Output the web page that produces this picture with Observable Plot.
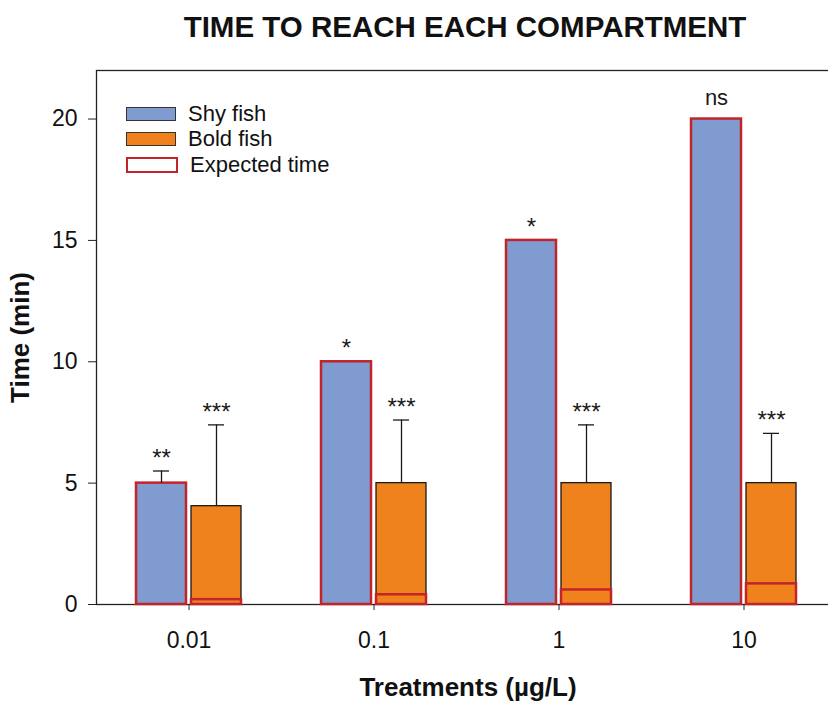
<!DOCTYPE html>
<html>
<head>
<meta charset="utf-8">
<script src="https://cdn.jsdelivr.net/npm/d3@7"></script>
<script src="https://cdn.jsdelivr.net/npm/@observablehq/plot@0.6"></script>
<style>
  html, body { margin: 0; padding: 0; overflow: hidden; background: #fff; }
  body { width: 828px; height: 701px; position: relative; font-family: "Liberation Sans", Arial, sans-serif; color: #111; }
  #title { height: 52px; line-height: 54px; padding-left: 102px; width: 726px; text-align: center; font-weight: bold; font-size: 29.5px; white-space: nowrap; }
  #xtitle { position: absolute; left: 102px; width: 732px; top: 672px; text-align: center; font-weight: bold; font-size: 26px; white-space: nowrap; }
  #legend { position: absolute; left: 126px; top: 101px; font-size: 22px; }
  .row { display: flex; align-items: center; height: 25.5px; }
  .sw { width: 48px; height: 12px; margin-right: 12px; box-sizing: content-box; }
  #chart svg { max-width: none !important; overflow: visible; }
</style>
</head>
<body>
<div id="title">TIME TO REACH EACH COMPARTMENT</div>
<div id="chart"></div>
<div id="xtitle">Treatments (µg/L)</div>
<div id="legend"></div>
<script>
const treatments = ["0.01", "0.1", "1", "10"];
const shyMean = [5, 10, 15, 20];
const shySD = [0.5, 0, 0, 0];
const boldMean = [4.05, 5, 5, 5];
const boldSD = [3.35, 2.6, 2.4, 2.05];
const shyExpected = [5, 10, 15, 20];
const boldExpected = [0.2, 0.4, 0.6, 0.85];
const shySig = ["**", "*", "*", "ns"];
const boldSig = ["***", "***", "***", "***"];
const yTicks = [0, 5, 10, 15, 20];
const seriesNames = ["Shy fish", "Bold fish", "Expected time"];

const BLUE = "#7f9bcf", ORANGE = "#f0821e", RED = "#c3242a", INK = "#1a1a1a";

const shy = treatments.map((t, i) => ({t, mean: shyMean[i], sd: shySD[i], exp: shyExpected[i], sig: shySig[i]}));
const bold = treatments.map((t, i) => ({t, mean: boldMean[i], sd: boldSD[i], exp: boldExpected[i], sig: boldSig[i]}));
const errTop = d => d.mean + d.sd;
const shyErr = shy.filter(d => d.sd > 0);
const isNs = d => d.sig === "ns";

const font = "'Liberation Sans', Arial, sans-serif";

const chart = Plot.plot({
  width: 835,
  height: 618,
  marginLeft: 96,
  marginRight: 0,
  marginTop: 18,
  marginBottom: 66,
  style: {fontFamily: font, background: "white", overflow: "visible"},
  x: {domain: treatments, paddingInner: 80 / 185, paddingOuter: 39.5 / 185, label: null},
  y: {domain: [0, 22], label: null},
  marks: [
    Plot.frame({stroke: "#222", strokeWidth: 1.3}),
    // shy fish bars
    Plot.barY(shy, {x: "t", y: "mean", fill: BLUE, insetRight: 55}),
    Plot.barY(shy, {x: "t", y: "exp", fill: "none", stroke: RED, strokeWidth: 2.5, insetRight: 55}),
    // bold fish bars
    Plot.barY(bold, {x: "t", y: "mean", fill: ORANGE, stroke: INK, strokeWidth: 1.3, insetLeft: 55}),
    Plot.barY(bold, {x: "t", y: "exp", fill: "none", stroke: RED, strokeWidth: 2.5, insetLeft: 55}),
    // error bars
    Plot.ruleX(shyErr, {x: "t", y1: "mean", y2: errTop, dx: -27.5, stroke: INK, strokeWidth: 1.3}),
    Plot.tickY(shyErr, {x: "t", y: errTop, insetLeft: 17, insetRight: 72, stroke: INK, strokeWidth: 1.3}),
    Plot.ruleX(bold, {x: "t", y1: "mean", y2: errTop, dx: 27.5, stroke: INK, strokeWidth: 1.3}),
    Plot.tickY(bold, {x: "t", y: errTop, insetLeft: 72, insetRight: 17, stroke: INK, strokeWidth: 1.3}),
    // significance labels
    Plot.text(shy.filter(d => !isNs(d)), {x: "t", y: errTop, text: "sig", dx: -27.5, dy: -13, fontSize: 24, fill: INK}),
    Plot.text(shy.filter(isNs), {x: "t", y: errTop, text: "sig", dx: -27.5, dy: -21, fontSize: 22, fill: INK}),
    Plot.text(bold, {x: "t", y: errTop, text: "sig", dx: 27.5, dy: -13, fontSize: 24, fill: INK}),
    // axes
    Plot.axisY({ticks: yTicks, tickSize: 8, tickPadding: 11, fontSize: 23, label: null, stroke: "#222"}),
    Plot.axisY({ticks: [], label: "Time (min)", labelAnchor: "center", labelOffset: 86, fontSize: 26, fontWeight: "bold", labelArrow: false}),
    Plot.axisX({tickSize: 6, tickPadding: 21, fontSize: 23, label: null, stroke: "#222"})
  ]
});
document.getElementById("chart").appendChild(chart);

// legend
const legendStyles = [
  {background: BLUE, border: "1.3px solid #333"},
  {background: ORANGE, border: "1.3px solid #333"},
  {background: "white", border: "2.5px solid " + RED}
];
const legend = document.getElementById("legend");
seriesNames.forEach((name, i) => {
  const row = document.createElement("div");
  row.className = "row";
  const sw = document.createElement("div");
  sw.className = "sw";
  sw.style.background = legendStyles[i].background;
  sw.style.border = legendStyles[i].border;
  const lab = document.createElement("span");
  lab.textContent = name;
  row.appendChild(sw);
  row.appendChild(lab);
  legend.appendChild(row);
});
</script>
</body>
</html>
